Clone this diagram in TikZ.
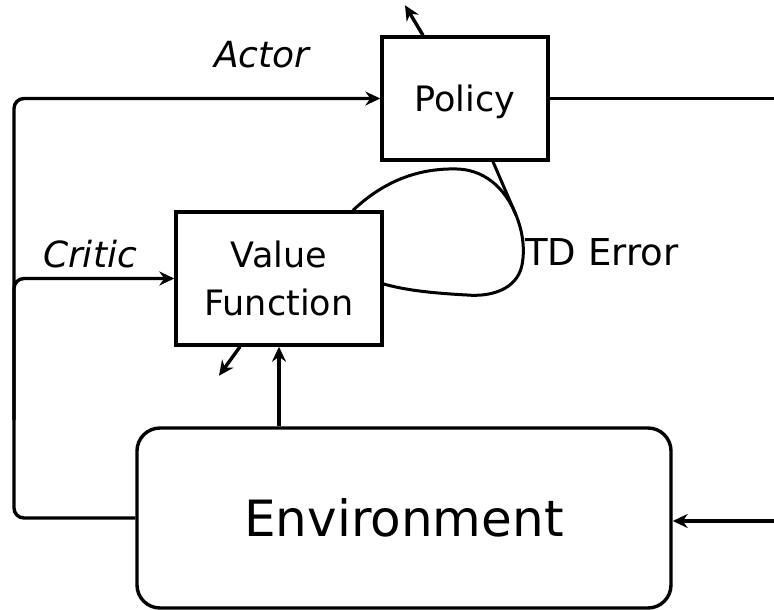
\documentclass[tikz,border=0pt]{standalone}
\usepackage{fontspec}
\setmainfont{DejaVu Sans}
\usetikzlibrary{arrows.meta}
\tikzset{
	box/.style={draw,line width=3.4pt,minimum width=#1,inner sep=0pt,text depth=0pt,
		font=\fontsize{35}{48}\selectfont,align=center},
	envbox/.style={draw,line width=3.4pt,rounded corners=23pt,minimum width=534pt,
		minimum height=180pt,text depth=0pt,font=\fontsize{50}{56}\selectfont},
	lbl/.style={anchor=base,inner sep=0pt,font=\fontsize{36}{42}\selectfont},
	link/.style={line width=3.4pt,-{Stealth[length=15pt,width=14pt,inset=5pt]}}
}

\begin{document}
\begin{tikzpicture}[x=1pt,y=-1pt]
	\useasboundingbox (0,0) rectangle (774,610);

	\node [box=166pt,minimum height=123pt] (policy) at (465,98.5) {Policy};
	\node [box=206pt,minimum height=133pt] (vf) at (279,278.5) {Value\\Function};
	\node [envbox] (env) at (404,518) {Environment};

	\node [lbl] (actor) at (262,68) {\itshape Actor};
	\node [lbl] (critic) at (90,267) {\itshape Critic};
	\node [lbl,anchor=base west,font=\fontsize{37}{42}\selectfont] (tderr) at (525,265) {TD Error};

	\coordinate (bus) at (14,518);
	\coordinate (tap) at (14,420);
	\coordinate (act) at (774,98.5);
	\coordinate (obs) at (774,521);

	% actor and critic inputs
	\draw [link,rounded corners=10pt] (env.west) -- (bus) |- (policy.west);
	\draw [link,rounded corners=10pt] (tap) |- (vf.west);
	\draw [link] (vf.south |- env.north) -- (vf.south);

	% action out, state back in
	\draw [line width=3.4pt] (policy.east) -- (act);
	\draw [link] (obs) -- (obs -| env.east);

	% parameter updates
	\draw [link] ([xshift=-42pt]policy.north) -- ++(-18,-30);
	\draw [link] ([xshift=-39pt]vf.south) -- ++(-21,29);

	% td error loop
	\draw [line width=3pt] ([xshift=74pt]vf.north)
		.. controls (385,180) and (420,168) .. (457,169)
		.. controls (490,170) and (508,195) .. (516,215)
		.. controls (523,232) and (525,250) .. (522,265)
		.. controls (517,290) and (490,297) .. (467,295)
		.. controls (430,293) and (405,290) .. ([yshift=-5.5pt]vf.east);
	\draw [line width=3pt] ([xshift=28pt]policy.south) -- (516,215);
\end{tikzpicture}
\end{document}
